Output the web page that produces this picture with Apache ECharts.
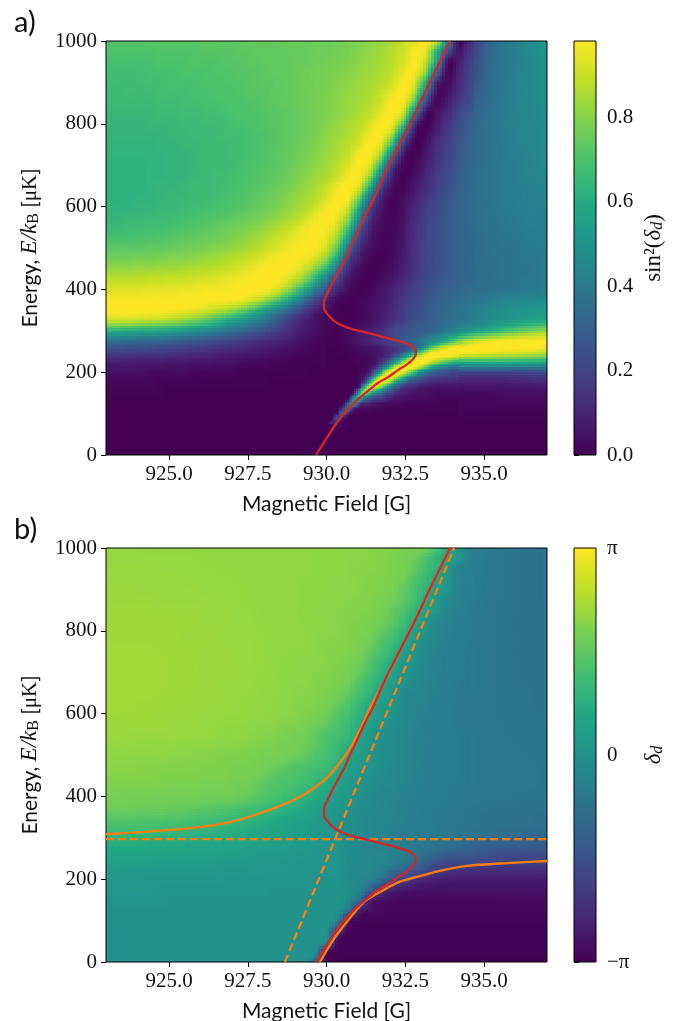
<!DOCTYPE html>
<html><head><meta charset="utf-8">
<style>html,body{margin:0;padding:0;background:#fff}#c{width:680px;height:1021px}</style>
<script src="https://cdn.jsdelivr.net/npm/echarts@6/dist/echarts.min.js"></script>
</head><body><div id="c"></div>
<script>
const fieldTicks=[925,927.5,930,932.5,935];
const energyTicks=[0,200,400,600,800,1000];
const sinTicks=[0,0.2,0.4,0.6,0.8];
const fieldStart=923, fieldStep=0.35, energyTop=1000, energyStep=25;
// sin^2(delta) x 100; rows from E=1000 down to E=0, columns from 923 G in 0.35 G steps
const sinSqRows=[
[71,71,71,71,72,72,72,72,72,73,73,73,73,74,74,74,75,75,75,76,76,77,78,79,81,83,86,90,94,97,88,45,3,13,24,33,37,41,45,48,51],
[70,70,70,70,70,71,71,71,71,72,72,72,73,73,74,74,74,75,75,76,76,77,78,80,82,84,87,91,97,94,62,25,6,16,26,34,38,41,45,48,50],
[69,69,69,69,69,70,70,70,71,71,71,72,72,73,73,74,74,75,75,76,77,78,79,81,83,85,88,92,98,88,55,4,8,18,27,34,38,41,44,47,50],
[68,68,68,68,69,69,69,70,70,70,71,71,72,72,73,74,74,75,76,77,78,79,80,82,84,86,89,95,97,80,33,2,10,19,28,35,38,42,44,47,49],
[67,67,67,68,68,68,69,69,69,70,70,71,71,72,73,73,74,75,76,77,78,80,81,83,85,87,91,98,92,60,12,3,11,20,29,35,39,42,44,47,49],
[66,66,67,67,67,68,68,68,69,69,70,70,71,72,72,73,74,75,76,77,79,80,82,84,86,90,95,98,85,40,4,5,14,22,31,36,39,42,44,47,49],
[66,66,66,66,66,67,67,68,68,69,69,70,70,71,72,73,74,75,76,78,79,81,83,85,87,92,98,96,68,20,2,8,17,24,32,36,40,42,44,46,48],
[65,65,65,65,65,66,66,67,67,68,68,69,70,70,71,72,73,74,76,77,79,81,83,86,89,95,98,88,42,4,5,12,20,27,34,37,40,43,44,46,48],
[64,64,64,64,65,65,65,66,66,67,67,68,69,70,71,72,73,74,76,78,80,82,85,88,93,98,95,68,15,1,7,15,22,29,35,38,41,43,44,46,47],
[64,64,64,64,64,64,65,65,66,66,67,68,68,69,70,71,73,74,76,78,81,83,86,90,97,97,83,38,5,2,10,17,24,30,35,38,40,42,44,45,47],
[63,63,63,63,63,64,64,65,65,66,66,67,68,69,70,72,73,75,77,79,82,85,88,93,98,92,62,18,1,4,13,19,26,31,35,38,40,42,44,45,46],
[63,63,63,63,63,63,64,64,65,66,66,67,68,69,70,72,74,75,78,80,83,86,90,97,97,80,38,6,1,6,14,20,26,31,35,38,40,42,43,44,45],
[62,62,62,62,63,63,64,64,65,66,66,67,68,70,71,72,74,76,79,81,84,88,93,98,92,60,18,2,2,8,15,21,27,32,35,38,40,41,43,44,45],
[62,62,62,62,63,63,64,64,65,66,67,68,69,70,72,73,75,78,80,83,86,90,97,97,80,38,8,1,4,10,17,23,28,33,36,38,40,41,43,44,44],
[62,62,62,62,63,64,64,65,66,66,67,68,69,71,72,74,76,79,82,85,89,95,98,92,60,22,4,2,6,12,18,24,29,33,36,38,40,41,42,43,44],
[62,62,62,63,63,64,65,65,66,67,68,69,70,72,74,76,78,81,84,87,92,98,97,78,36,10,2,3,8,14,20,25,30,34,36,38,40,41,42,43,44],
[63,63,63,64,64,65,65,66,67,68,69,70,71,73,75,77,80,83,86,90,96,98,90,58,22,6,1,5,11,17,22,27,31,34,37,38,40,41,42,42,43],
[64,64,65,65,66,66,67,68,69,70,71,72,74,76,78,80,83,86,90,95,98,95,80,45,14,4,2,5,12,18,23,27,31,34,36,38,39,40,41,42,42],
[66,66,67,67,68,68,69,70,71,72,74,76,77,79,81,84,87,91,95,98,97,90,68,30,8,3,2,6,13,19,24,27,30,33,36,37,39,40,41,41,42],
[69,69,69,70,70,71,72,73,74,75,76,78,80,82,85,88,91,94,97,98,94,82,52,20,6,2,2,6,13,19,24,27,30,33,35,37,38,39,40,41,41],
[73,73,73,73,74,74,75,76,77,78,80,81,83,85,88,91,94,97,98,97,90,72,36,12,4,2,2,7,14,20,24,27,30,33,35,37,38,38,39,40,40],
[77,77,77,78,78,79,80,80,81,83,84,86,88,90,93,96,98,98,97,92,80,55,22,7,2,1,3,8,14,20,24,27,30,33,35,36,37,38,39,39,40],
[82,82,82,83,83,84,84,85,86,87,88,90,92,94,97,98,98,96,90,80,62,36,12,4,1,2,4,9,15,20,24,27,30,33,35,36,37,38,38,39,40],
[88,88,88,88,89,89,90,90,91,92,93,94,96,97,98,98,96,90,80,62,40,20,6,2,1,3,6,11,16,21,25,28,31,33,35,36,37,38,39,39,40],
[93,93,93,93,94,94,94,95,95,96,96,97,98,98,98,95,88,76,60,42,24,10,3,1,2,5,9,14,19,23,27,30,33,35,36,37,38,39,40,40,41],
[97,97,97,97,97,98,98,98,98,98,98,98,97,93,87,78,66,52,37,22,10,3,1,2,3,6,10,16,20,25,29,32,35,37,39,41,43,44,45,46,47],
[98,98,98,98,98,98,97,96,94,91,88,84,78,70,60,48,38,28,18,9,4,1,1,2,4,7,12,18,22,27,31,34,37,40,43,46,48,50,51,52,53],
[90,90,90,89,88,87,85,82,78,73,67,60,54,47,41,33,24,15,9,5,2,1,1,2,4,8,13,18,25,27,30,35,38,41,44,47,50,53,55,57,58],
[62,62,61,60,59,58,56,53,50,47,43,38,34,30,26,21,16,11,7,4,2,1,3,5,8,13,20,25,28,30,35,42,48,53,58,63,68,72,76,79,82],
[36,36,35,34,33,32,30,29,27,25,23,20,18,15,13,11,9,6,4,2,1,1,3,6,10,14,20,28,33,42,50,65,78,87,92,95,97,98,98,98,98],
[20,20,19,19,18,17,16,15,14,13,12,10,9,8,7,5,4,3,2,1,1,1,2,3,4,7,13,27,50,82,96,99,99,99,98,97,95,94,93,92,90],
[9,9,9,8,8,8,7,7,6,6,5,5,4,3,3,2,2,1,1,1,1,1,3,6,8,17,45,75,97,97,85,72,64,64,64,64,64,63,62,61,60],
[4,4,4,4,3,3,3,3,2,2,2,2,1,1,1,1,1,1,1,0,0,1,3,7,18,55,97,90,58,40,29,24,22,21,21,21,21,21,22,23,24],
[2,2,2,2,2,1,1,1,1,1,1,1,1,1,1,0,0,0,0,0,0,0,2,10,88,70,32,16,10,8,8,8,8,8,8,8,8,9,9,10,10],
[1,1,1,1,1,1,0,0,0,0,0,0,0,0,0,0,0,0,0,0,0,0,5,72,22,8,4,3,3,3,3,3,3,3,3,3,4,4,4,4,4],
[0,0,0,0,0,0,0,0,0,0,0,0,0,0,0,0,0,0,0,0,0,2,40,30,6,3,2,2,2,2,2,2,2,2,2,2,2,2,2,2,2],
[0,0,0,0,0,0,0,0,0,0,0,0,0,0,0,0,0,0,0,0,1,22,14,2,1,1,1,1,1,1,1,1,1,1,1,1,1,1,1,1,1],
[0,0,0,0,0,0,0,0,0,0,0,0,0,0,0,0,0,0,0,0,0,5,1,0,0,0,0,0,0,0,0,0,0,0,0,0,0,0,0,0,0],
[0,0,0,0,0,0,0,0,0,0,0,0,0,0,0,0,0,0,0,0,0,0,0,0,0,0,0,0,0,0,0,0,0,0,0,0,0,0,0,0,0],
[0,0,0,0,0,0,0,0,0,0,0,0,0,0,0,0,0,0,0,0,0,0,0,0,0,0,0,0,0,0,0,0,0,0,0,0,0,0,0,0,0],
[0,0,0,0,0,0,0,0,0,0,0,0,0,0,0,0,0,0,0,0,0,0,0,0,0,0,0,0,0,0,0,0,0,0,0,0,0,0,0,0,0]
];
// finer reading of the narrow lower branch: 930..934.2 G in 0.175 G steps, E=300 down to 75 in 12.5 steps
const fineFieldStart=930, fineFieldStep=0.175, fineEnergyTop=300, fineEnergyStep=12.5;
const sinSqFineRows=[
[2,1,1,2,3,4,5,6,8,10,13,16,20,22,25,26,28,29,30,32,35,38,42,45,48],
[1,1,1,2,3,4,6,7,9,11,14,17,20,23,26,28,30,33,36,39,42,47,52,56,60],
[1,1,1,2,3,4,6,8,10,12,14,17,20,24,28,30,33,38,42,46,50,56,63,70,76],
[0,0,1,1,2,3,4,5,6,8,10,13,16,19,22,26,30,36,50,63,75,82,89,92,95],
[0,0,0,1,1,2,3,3,4,5,7,10,13,18,27,36,50,66,82,92,96,98,99,99,99],
[0,0,0,0,1,1,2,2,3,5,8,12,22,33,50,66,85,93,98,99,99,97,95,92,90],
[0,0,0,0,0,1,1,2,3,6,14,26,44,62,83,95,99,99,96,90,83,76,70,66,63],
[0,0,0,0,0,0,1,2,5,13,32,51,79,93,99,99,95,87,73,60,51,45,41,38,37],
[0,0,0,0,0,0,1,3,11,32,62,89,98,99,93,81,67,52,42,33,29,27,24,22,22],
[0,0,0,0,0,0,2,9,31,69,95,99,95,81,62,47,37,30,24,20,19,18,17,16,15],
[0,0,0,0,0,1,4,25,73,95,98,87,65,45,34,24,19,15,13,11,10,10,9,9,9],
[0,0,0,0,1,2,15,70,92,87,71,50,33,23,13,11,9,7,6,6,5,5,5,5,5],
[0,0,0,0,1,8,62,82,62,46,36,24,18,12,8,6,5,4,4,3,3,3,3,3,3],
[0,0,0,0,4,43,67,38,26,20,18,12,8,6,5,4,3,3,3,3,2,2,2,2,2],
[0,0,0,2,30,55,19,12,9,7,5,4,3,3,2,2,2,2,2,2,2,1,1,1,1],
[0,0,1,16,44,10,5,4,3,2,2,1,1,1,1,1,1,1,1,1,1,1,1,1,1],
[0,1,7,31,7,2,1,1,1,1,1,1,1,1,1,1,1,1,0,0,0,0,0,0,0],
[0,3,24,4,1,0,0,0,0,0,0,0,0,0,0,0,0,0,0,0,0,0,0,0,0],
[1,13,3,0,0,0,0,0,0,0,0,0,0,0,0,0,0,0,0,0,0,0,0,0,0]
];
// delta in hundredths of pi; same grid as sinSqRows
const deltaRows=[
[68,68,68,68,67,67,67,67,67,67,67,67,67,67,67,67,67,67,67,66,66,66,65,65,64,63,62,60,58,56,39,23,4,-12,-16,-19,-21,-22,-23,-24,-25],
[68,68,68,68,68,68,68,68,68,67,67,67,67,67,67,67,67,67,67,66,66,66,65,65,64,63,61,59,55,42,29,17,4,-13,-17,-20,-21,-22,-23,-24,-25],
[69,69,69,69,69,68,68,68,68,68,68,67,67,67,67,67,67,67,67,66,66,66,65,64,64,63,61,59,50,39,27,6,-10,-14,-17,-20,-21,-22,-23,-24,-25],
[69,69,69,69,69,69,69,68,68,68,68,68,67,67,67,67,67,67,66,66,66,65,65,64,63,62,61,57,44,35,18,5,-10,-14,-18,-20,-21,-22,-23,-24,-25],
[70,70,70,69,69,69,69,69,69,68,68,68,68,67,67,67,67,67,66,66,66,65,65,64,63,62,60,50,41,28,10,4,-11,-15,-18,-20,-21,-22,-23,-24,-25],
[70,70,70,70,70,69,69,69,69,69,68,68,68,67,67,67,67,67,66,66,65,65,64,63,62,60,57,50,38,22,6,-7,-12,-16,-19,-21,-21,-22,-23,-24,-25],
[71,71,71,71,71,70,70,70,70,69,69,69,68,68,67,67,67,67,66,65,65,64,63,63,62,59,50,43,31,15,5,-9,-13,-17,-19,-21,-22,-22,-23,-24,-24],
[71,71,71,71,71,71,71,70,70,69,69,69,68,68,67,67,67,67,66,66,65,64,63,62,60,57,50,39,22,6,-6,-11,-15,-18,-20,-21,-22,-23,-23,-24,-24],
[71,71,71,71,71,71,71,70,70,70,70,69,69,68,68,67,67,67,66,65,65,64,62,61,59,52,43,30,13,3,-9,-13,-16,-18,-20,-21,-22,-23,-23,-24,-24],
[71,71,71,71,71,71,71,71,70,70,70,69,69,69,68,67,67,67,66,65,64,64,62,60,56,44,38,21,7,-3,-10,-13,-16,-18,-20,-21,-22,-22,-23,-24,-24],
[72,72,72,72,72,71,71,71,71,70,70,70,69,69,68,67,67,66,66,65,64,63,62,59,50,41,29,14,3,-7,-12,-15,-17,-19,-20,-21,-22,-23,-23,-24,-24],
[72,72,72,72,72,72,71,71,71,70,70,70,69,69,68,67,66,66,65,65,64,62,60,56,44,35,21,8,3,-8,-13,-15,-17,-19,-20,-21,-22,-22,-23,-23,-24],
[72,72,72,72,72,72,71,71,71,70,70,70,69,68,68,67,66,66,65,64,63,61,59,52,41,29,14,5,-3,-9,-13,-15,-17,-19,-20,-21,-22,-22,-23,-23,-24],
[72,72,72,72,72,72,71,71,71,70,70,69,69,68,67,67,66,65,65,63,62,60,56,44,35,21,9,3,-6,-10,-14,-16,-18,-19,-20,-21,-22,-22,-23,-23,-23],
[72,72,72,72,72,71,71,71,70,70,70,69,69,68,67,67,66,65,64,63,61,57,50,41,28,16,6,-5,-8,-11,-14,-16,-18,-19,-20,-21,-22,-22,-22,-23,-23],
[72,72,72,71,71,71,70,70,70,70,69,69,68,67,67,66,65,64,63,62,59,52,44,34,20,10,4,-6,-9,-12,-15,-17,-19,-20,-21,-21,-22,-22,-22,-23,-23],
[71,71,71,71,71,70,70,70,70,69,69,68,68,67,67,66,65,64,62,60,56,47,40,27,16,7,3,-7,-11,-13,-16,-17,-19,-20,-21,-21,-22,-22,-22,-22,-23],
[70,70,70,70,70,70,69,69,69,68,68,67,67,66,65,65,63,62,60,57,50,43,35,23,12,4,-3,-7,-11,-14,-16,-17,-19,-20,-20,-21,-21,-22,-22,-22,-22],
[70,70,69,69,69,69,69,68,68,68,67,66,66,65,64,63,61,59,57,50,44,40,32,18,7,-2,-4,-8,-12,-14,-16,-17,-18,-19,-20,-21,-21,-22,-22,-22,-22],
[68,68,68,67,67,67,67,66,66,66,65,65,64,63,62,61,59,58,56,50,42,35,25,15,5,-2,-4,-8,-12,-14,-16,-17,-18,-19,-20,-21,-21,-21,-22,-22,-22],
[66,66,66,66,66,66,65,65,64,64,63,62,62,61,60,59,58,56,52,44,40,32,20,11,4,-2,-5,-8,-12,-15,-16,-17,-18,-19,-20,-21,-21,-21,-21,-22,-22],
[65,65,65,64,64,64,63,63,63,62,62,61,60,60,58,56,52,46,44,41,35,27,16,8,2,-2,-6,-9,-12,-15,-16,-17,-18,-19,-20,-20,-21,-21,-21,-21,-22],
[63,63,63,63,63,62,62,62,62,61,61,60,59,58,56,50,45,44,40,35,29,20,11,4,-1,-3,-7,-10,-13,-15,-16,-17,-18,-19,-20,-20,-21,-21,-21,-21,-22],
[61,61,61,61,61,61,60,60,60,59,59,58,56,56,50,45,43,40,35,29,22,15,8,3,-2,-6,-8,-11,-13,-15,-17,-18,-19,-19,-20,-20,-21,-21,-21,-21,-22],
[58,58,58,58,58,57,57,57,57,56,56,56,55,52,46,43,39,34,28,22,16,10,6,-1,-5,-8,-10,-12,-14,-16,-17,-18,-19,-20,-20,-21,-21,-21,-22,-22,-22],
[56,56,56,55,55,55,54,53,52,50,48,46,44,41,38,34,30,26,21,15,10,6,3,-3,-5,-8,-10,-13,-15,-17,-18,-19,-20,-21,-22,-22,-23,-23,-24,-24,-24],
[48,48,48,47,47,46,45,44,42,41,39,37,34,32,28,24,21,18,14,10,6,3,-2,-5,-7,-9,-11,-14,-16,-17,-19,-20,-21,-22,-23,-24,-24,-25,-25,-26,-26],
[40,40,40,40,39,38,37,36,34,33,30,28,26,24,22,19,16,12,10,7,4,2,-2,-5,-7,-9,-12,-14,-17,-17,-18,-20,-21,-22,-23,-24,-25,-26,-27,-27,-28],
[29,29,29,28,28,27,27,26,25,24,23,21,20,19,17,15,13,11,9,6,4,2,-3,-5,-8,-11,-14,-16,-18,-18,-20,-22,-24,-26,-28,-29,-31,-33,-34,-35,-36],
[20,20,20,20,19,19,18,18,17,17,16,15,14,12,11,10,10,8,6,4,3,2,-4,-6,-9,-11,-14,-16,-20,-22,-25,-30,-34,-38,-41,-43,-44,-45,-45,-45,-45],
[15,15,14,14,14,13,13,12,12,12,11,10,10,9,8,7,6,5,4,3,2,2,-3,-5,-7,-9,-12,-17,-25,-36,-44,-50,-50,-50,-53,-55,-57,-58,-59,-59,-60],
[10,10,10,9,9,9,8,8,8,8,7,7,6,6,6,5,5,3,3,3,3,3,-5,-8,-9,-14,-23,-33,-44,-50,-62,-67,-70,-70,-71,-71,-71,-71,-71,-72,-72],
[6,6,6,6,5,5,5,5,5,5,5,4,3,3,3,3,3,3,3,2,2,1,-5,-9,-14,-27,-50,-60,-72,-78,-82,-84,-85,-85,-85,-85,-85,-85,-85,-85,-84],
[5,5,5,5,5,3,3,3,3,3,3,3,3,3,3,2,2,2,2,2,2,2,-3,-10,-39,-68,-81,-87,-90,-91,-91,-91,-91,-91,-91,-91,-91,-90,-90,-90,-90],
[3,3,3,3,3,3,2,2,2,2,2,2,2,2,2,2,2,2,2,2,2,1,-4,-32,-84,-91,-94,-95,-95,-95,-95,-95,-95,-95,-95,-95,-94,-94,-94,-94,-94],
[2,2,2,2,2,2,2,2,2,2,2,1,1,1,1,1,1,1,1,1,1,1,-25,-82,-92,-95,-96,-96,-96,-96,-96,-96,-96,-96,-96,-96,-96,-96,-96,-96,-96],
[2,2,2,2,2,2,2,2,2,1,1,1,1,1,1,1,1,1,1,1,1,-15,-88,-96,-97,-97,-97,-97,-97,-97,-97,-97,-97,-97,-97,-97,-97,-97,-97,-97,-97],
[1,1,1,1,1,1,1,1,1,1,1,1,1,1,1,1,1,1,1,1,1,-60,-98,-99,-99,-99,-99,-99,-99,-99,-99,-99,-99,-99,-99,-99,-99,-99,-99,-99,-99],
[1,1,1,1,1,1,1,1,1,1,1,1,1,1,1,1,1,1,1,1,-5,-97,-99,-99,-99,-99,-99,-99,-99,-99,-99,-99,-99,-99,-99,-99,-99,-99,-99,-99,-99],
[1,1,1,1,1,1,1,1,1,1,1,1,1,1,1,1,1,1,1,1,-92,-99,-99,-99,-99,-99,-99,-99,-99,-99,-99,-99,-99,-99,-99,-99,-99,-99,-99,-99,-99],
[1,1,1,1,1,1,1,1,1,1,1,1,1,1,1,1,1,1,1,-30,-98,-100,-100,-100,-100,-100,-100,-100,-100,-100,-100,-100,-100,-100,-100,-100,-100,-100,-100,-100,-100]
];
const redField=[933.92,933.67,933.44,933.19,932.97,932.71,932.43,932.17,931.95,931.70,931.48,931.25,931.03,930.81,930.59,930.37,930.17,930.02,929.92,929.92,930.02,930.21,930.46,930.81,931.22,931.70,932.17,932.59,932.81,932.84,932.75,932.52,932.27,931.95,931.63,931.32,931.0,930.75,930.52,930.30,930.11,929.89,929.67];
const redEnergy=[1000,961,925,886,850,809,768,729,696,655,616,582,546,510,473,442,413,389,370,355,341,326,314,304,297,287,278,268,256,246,232,217,205,188,174,155,135,116,97,75,53,27,0];
const upperField=[923,923.76,925.03,925.98,926.94,927.73,928.52,929.16,929.89,930.37,930.81,931.13,931.44,931.86,932.43,932.97,933.44,933.92];
const upperEnergy=[309,312,319,326,338,355,377,399,437,476,524,572,623,681,768,850,925,1000];
const lowerField=[929.79,930.21,930.65,931.16,931.7,932.24,932.75,933.6,934.46,935.73,937];
const lowerEnergy=[0,53,97,143,169,191,203,220,232,239,244];
const thresholdField=[923,937], thresholdEnergy=[297,297];
const slopeField=[928.68,934.05], slopeEnergy=[0,1000];
const viridis=['#440154','#482475','#414487','#355f8d','#2a788e','#21918c','#22a884','#44bf70','#7ad151','#bddf26','#fde725'];

const rgb=viridis.map(h=>[1,3,5].map(k=>parseInt(h.substr(k,2),16)));
function colour(f){f=Math.max(0,Math.min(1,f))*10;const i=Math.min(9,Math.floor(f)),t=f-i;
 const c=rgb[i],d=rgb[i+1];return 'rgb('+[0,1,2].map(k=>Math.round(c[k]+(d[k]-c[k])*t)).join(',')+')';}
// each cell spans four read grid nodes; the colours inside it blend those nodes
function cells(rows,b0,db,e0,de){const out=[];
 for(let j=0;j<rows.length-1;j++)for(let i=0;i<rows[j].length-1;i++){
  out.push([b0+i*db,e0-j*de,b0+(i+1)*db,e0-(j+1)*de,i,j]);}
 return out;}
function cr(p0,p1,p2,p3,t){return p1+.5*t*(p2-p0+t*(2*p0-5*p1+4*p2-p3+t*(3*(p1-p2)+p3-p0)));}
function heatRender(rows,toFrac,sub,mode){
 const R=(i,j)=>rows[Math.max(0,Math.min(rows.length-1,j))][Math.max(0,Math.min(rows[0].length-1,i))];
 return function(params,api){
 const p=api.coord([api.value(0),api.value(1)]),q=api.coord([api.value(2),api.value(3)]);
 const i=api.value(4),j=api.value(5);
 const a=R(i,j),b=R(i+1,j),c=R(i,j+1),d=R(i+1,j+1);
 const lo=Math.min(a,b,c,d),hi=Math.max(a,b,c,d);
 if(lo===hi){return {type:'rect',shape:{x:Math.round(p[0]),y:Math.round(p[1]),width:Math.round(q[0])-Math.round(p[0]),height:Math.round(q[1])-Math.round(p[1])},style:{fill:colour(toFrac(a))}};}
 const kids=[];
 for(let m=0;m<sub;m++)for(let n=0;n<sub;n++){
  const x0=Math.round(p[0]+(q[0]-p[0])*n/sub),x1=Math.round(p[0]+(q[0]-p[0])*(n+1)/sub);
  const y0=Math.round(p[1]+(q[1]-p[1])*m/sub),y1=Math.round(p[1]+(q[1]-p[1])*(m+1)/sub);
  const s=(n+.5)/sub,t=(m+.5)/sub;let v;
  if(mode==='linear'){v=a*(1-s)*(1-t)+b*s*(1-t)+c*(1-s)*t+d*s*t;}
  else{const w=[-1,0,1,2].map(k=>cr(R(i-1,j+k),R(i,j+k),R(i+1,j+k),R(i+2,j+k),s));
   v=cr(w[0],w[1],w[2],w[3],t);
   if(mode==='bounded')v=Math.max(lo,Math.min(hi,v));}
  kids.push({type:'rect',shape:{x:x0,y:y0,width:x1-x0,height:y1-y0},style:{fill:colour(toFrac(v))}});}
 return {type:'group',children:kids};};}
function barRender(params,api){
 const p=api.coord([0,api.value(1)]),q=api.coord([1,api.value(0)]);
 return {type:'rect',shape:{x:p[0],y:p[1],width:q[0]-p[0],height:q[1]-p[1]},
  style:{fill:new echarts.graphic.LinearGradient(0,1,0,0,viridis.map((c,i)=>({offset:i/10,color:c})))}};}
const serif='"Liberation Serif",serif', sans='Lato,"Open Sans",sans-serif';
const ink='#111';
function pairs(a,b){return a.map((v,i)=>[v,b[i]]);}
function gridAt(left,top,w,h){return {left,top,width:w,height:h,z:5,show:true,backgroundColor:'transparent',borderColor:'#000',borderWidth:1,containLabel:false,outerBoundsMode:'none'};}
const tick={show:true,length:5,lineStyle:{color:'#000',width:1}};
const line0={show:false};
function fieldAxis(idx){return {type:'value',gridIndex:idx,min:923,max:937,splitLine:{show:false},axisLine:line0,
 axisTick:Object.assign({},tick,{customValues:fieldTicks}),
 axisLabel:{customValues:fieldTicks,formatter:v=>v.toFixed(1),fontFamily:serif,fontSize:21,color:ink,margin:9},
 name:'Magnetic Field [G]',nameLocation:'middle',nameGap:39,nameTextStyle:{fontFamily:sans,fontSize:21,color:ink}};}
function energyAxis(idx){return {type:'value',gridIndex:idx,min:0,max:1000,interval:200,splitLine:{show:false},axisLine:line0,axisTick:tick,
 axisLabel:{fontFamily:serif,fontSize:21,color:ink,margin:9,formatter:v=>String(v)},
 name:'{a|Energy, }{i|E/k}{s|B}{a| [}{r|μK}{a|]}',nameLocation:'middle',nameGap:64,
 nameTextStyle:{rich:{a:{fontFamily:sans,fontSize:21,color:ink},i:{fontFamily:serif,fontStyle:'italic',fontSize:23,color:ink},s:{fontFamily:serif,fontSize:16,color:ink,padding:[8,0,0,0]},r:{fontFamily:serif,fontSize:21,color:ink}}}};}
function hiddenX(idx){return {type:'value',gridIndex:idx,min:0,max:1,show:false};}
const deltaTicks=[-Math.PI,0,Math.PI];
const option={animation:false,backgroundColor:'#fff',
 title:[{text:'a)',left:9,top:3,textStyle:{fontFamily:sans,fontSize:29,fontWeight:'normal',color:ink}},
        {text:'b)',left:9,top:510,textStyle:{fontFamily:sans,fontSize:29,fontWeight:'normal',color:ink}}],
 grid:[gridAt(106,41,441,414),gridAt(106,548,441,414),gridAt(574,41,22,414),gridAt(574,548,22,414)],
 xAxis:[fieldAxis(0),fieldAxis(1),hiddenX(2),hiddenX(3)],
 yAxis:[energyAxis(0),energyAxis(1),
  {type:'value',gridIndex:2,position:'right',min:0,max:0.98,splitLine:{show:false},axisLine:line0,
   axisTick:Object.assign({},tick,{customValues:sinTicks}),
   axisLabel:{customValues:sinTicks,formatter:v=>v.toFixed(1),fontFamily:serif,fontSize:21,color:ink,margin:11},
   name:'{a|sin²(}{i|δ}{s|d}{a|)}',nameLocation:'middle',nameRotate:90,nameGap:46,
   nameTextStyle:{rich:{a:{fontFamily:serif,fontSize:23,color:ink},i:{fontFamily:serif,fontStyle:'italic',fontSize:23,color:ink},s:{fontFamily:serif,fontStyle:'italic',fontSize:16,color:ink,padding:[8,0,0,0]}}}},
  {type:'value',gridIndex:3,position:'right',min:-Math.PI,max:Math.PI,splitLine:{show:false},axisLine:line0,
   axisTick:Object.assign({},tick,{customValues:deltaTicks}),
   axisLabel:{customValues:deltaTicks,formatter:v=>v===0?'0':(v<0?'−π':'π'),fontFamily:serif,fontSize:21,color:ink,margin:11},
   name:'{i|δ}{s|d}',nameLocation:'middle',nameRotate:90,nameGap:46,
   nameTextStyle:{rich:{i:{fontFamily:serif,fontStyle:'italic',fontSize:23,color:ink},s:{fontFamily:serif,fontStyle:'italic',fontSize:16,color:ink,padding:[8,0,0,0]}}}}],
 series:[
  {type:'custom',name:'sin2',xAxisIndex:0,yAxisIndex:0,silent:true,z:1,progressive:0,renderItem:heatRender(sinSqRows,v=>v/98,4,'cubic'),data:cells(sinSqRows,fieldStart,fieldStep,energyTop,energyStep),clip:true},
  {type:'custom',name:'sin2 fine',xAxisIndex:0,yAxisIndex:0,silent:true,z:2,progressive:0,renderItem:heatRender(sinSqFineRows,v=>v/98,3,'cubic'),data:cells(sinSqFineRows,fineFieldStart,fineFieldStep,fineEnergyTop,fineEnergyStep),clip:true},
  {type:'custom',name:'delta',xAxisIndex:1,yAxisIndex:1,silent:true,z:1,progressive:0,renderItem:heatRender(deltaRows,v=>.5+v/200,4,'bounded'),data:cells(deltaRows,fieldStart,fieldStep,energyTop,energyStep),clip:true},
  {type:'custom',name:'bar a',xAxisIndex:2,yAxisIndex:2,silent:true,z:1,renderItem:barRender,data:[[0,0.98]]},
  {type:'custom',name:'bar b',xAxisIndex:3,yAxisIndex:3,silent:true,z:1,renderItem:barRender,data:[[-Math.PI,Math.PI]]},
 ].concat([
  [0,redField,redEnergy,'#d62728','solid',8],
  [1,upperField,upperEnergy,'#ff7f0e','solid',6],
  [1,lowerField,lowerEnergy,'#ff7f0e','solid',6],
  [1,thresholdField,thresholdEnergy,'#ff7f0e',[8,4],6],
  [1,slopeField,slopeEnergy,'#ff7f0e',[8,4],6],
  [1,redField,redEnergy,'#d62728','solid',8]
 ].map(s=>({type:'line',xAxisIndex:s[0],yAxisIndex:s[0],data:pairs(s[1],s[2]),showSymbol:false,silent:true,z:s[5],smooth:0.3,smoothMonotone:'none',
   lineStyle:{color:s[3],width:2.3,type:s[4]},clip:true})))
};
const chart=echarts.init(document.getElementById('c'),null,{renderer:'canvas'});
chart.setOption(option);
</script></body></html>
